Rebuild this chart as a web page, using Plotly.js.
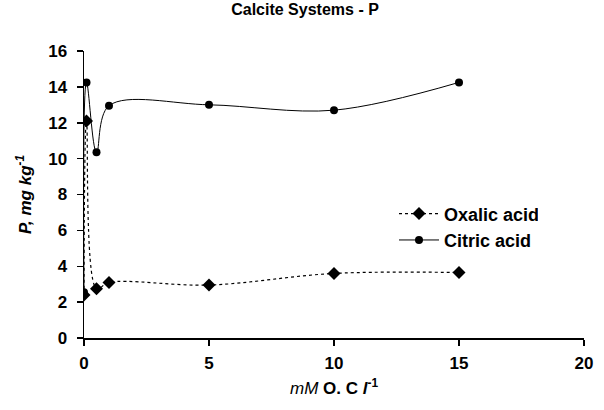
<!DOCTYPE html>
<html>
<head>
<meta charset="utf-8">
<script src="https://cdn.plot.ly/plotly-3.0.1.min.js"></script>
<style>html,body{margin:0;padding:0;background:#fff;}#chart{width:604px;height:410px;}</style>
</head>
<body>
<div id="chart"></div>
<script>
var concentrations = [0, 0.1, 0.5, 1, 5, 10, 15];
var oxalicAcid = [2.4, 12.1, 2.75, 3.1, 2.95, 3.6, 3.65];
var citricAcid = [2.55, 14.25, 10.35, 12.95, 13.0, 12.7, 14.25];
var seriesNames = ["Oxalic acid", "Citric acid"];
var xTicks = [0, 5, 10, 15, 20];
var yTicks = [0, 2, 4, 6, 8, 10, 12, 14, 16];

var fontFam = "Liberation Sans, Arial, sans-serif";
var traces = [
  {
    x: concentrations, y: oxalicAcid, name: seriesNames[0],
    mode: "lines+markers", type: "scatter",
    line: {color: "#000", width: 1.2, dash: "dot", shape: "spline", smoothing: 1},
    marker: {symbol: "diamond", size: 10, color: "#000"}
  },
  {
    x: concentrations, y: citricAcid, name: seriesNames[1],
    mode: "lines+markers", type: "scatter",
    line: {color: "#000", width: 1, shape: "spline", smoothing: 1},
    marker: {symbol: "circle", size: 8, color: "#000"}
  }
];
var layout = {
  width: 604, height: 410,
  margin: {l: 84, r: 20, t: 51, b: 72},
  paper_bgcolor: "#fff", plot_bgcolor: "#fff",
  font: {family: fontFam, color: "#000", size: 17},
  title: {text: "<b>Calcite Systems - P</b>", font: {size: 16, family: fontFam}, x: 0.505, xanchor: "center", y: 0.99, yanchor: "top"},
  xaxis: {
    range: [0, 20], tickvals: xTicks, ticktext: xTicks.map(function(v){return "<b>"+v+"</b>";}),
    showgrid: false, zeroline: false, showline: true, linecolor: "#000", linewidth: 1.5,
    ticks: "outside", ticklen: 6, tickcolor: "#000", tickwidth: 1.5,
    tickfont: {size: 17}, ticklabelstandoff: 3,
    title: {text: "<i>mM</i> <b>O. C <i>l</i><sup>-1</sup></b>", font: {size: 17}, standoff: 10}
  },
  yaxis: {
    range: [0, 16], tickvals: yTicks, ticktext: yTicks.map(function(v){return "<b>"+v+"</b>";}),
    showgrid: false, zeroline: false, showline: true, linecolor: "#000", linewidth: 1.5,
    ticks: "outside", ticklen: 6, tickcolor: "#000", tickwidth: 1.5,
    tickfont: {size: 17}, ticklabelstandoff: 6,
    title: {text: "<b><i>P, mg kg<sup>-1</sup></i></b>", font: {size: 17}, standoff: 12}
  },
  showlegend: true,
  legend: {x: 0.62, y: 0.497, xanchor: "left", yanchor: "top", bgcolor: "rgba(0,0,0,0)",
    font: {size: 18}, itemwidth: 40, tracegroupgap: 4},
};
Plotly.newPlot("chart", traces, layout, {displayModeBar: false, staticPlot: true}).then(function(){
  var items = document.querySelectorAll(".legendtext");
  items.forEach(function(t){ t.style.fontWeight = "bold"; });
});
</script>
</body>
</html>
